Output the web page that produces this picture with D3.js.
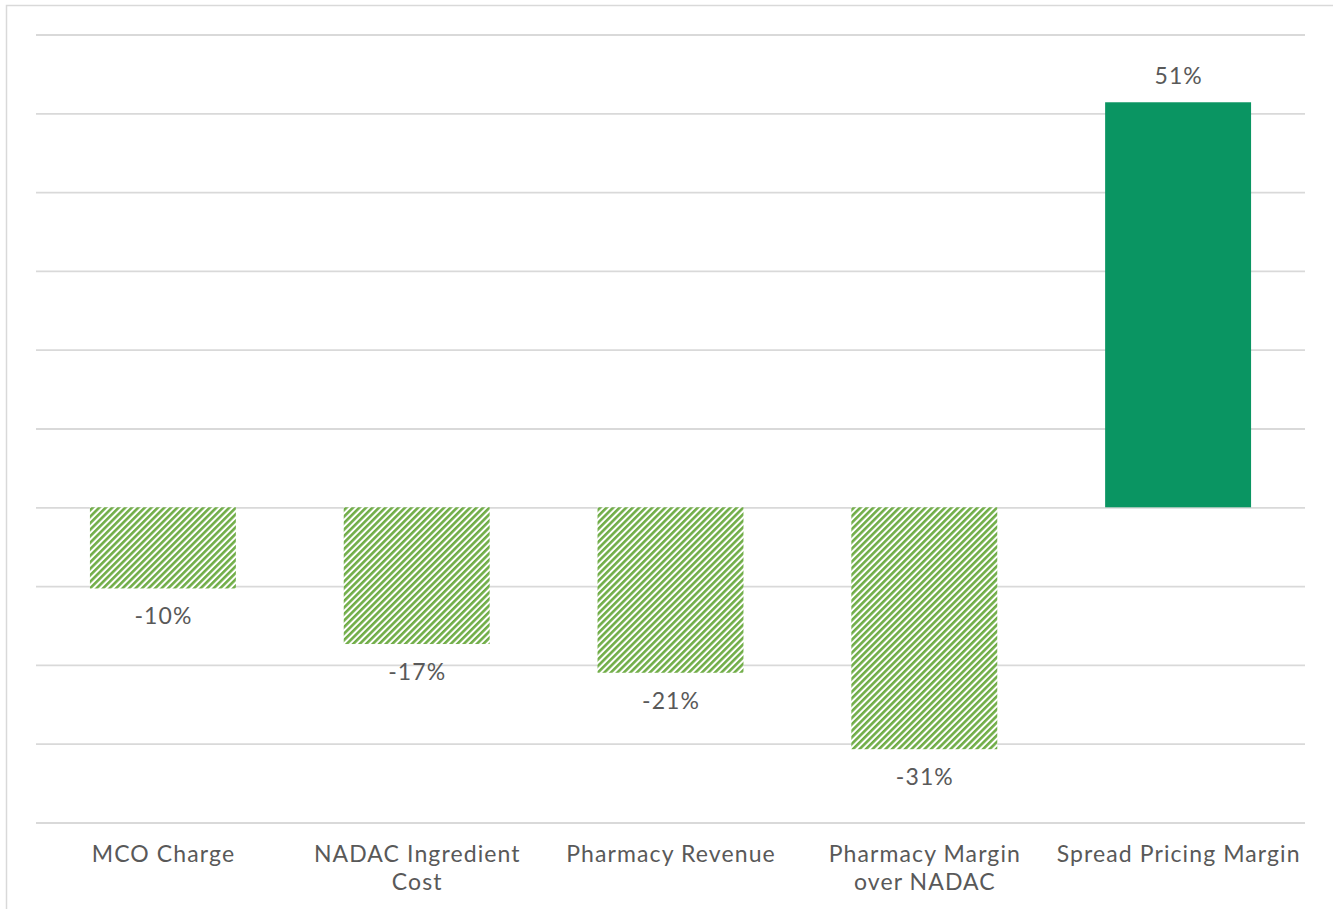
<!DOCTYPE html>
<html><head><meta charset="utf-8">
<script src="https://cdn.jsdelivr.net/npm/d3@7"></script>
<style>
html,body{margin:0;padding:0;background:#fff;}
svg{display:block;}
</style></head>
<body>
<svg id="chart" width="1333" height="909"></svg>
<script>
const categories = ["MCO Charge", "NADAC Ingredient Cost", "Pharmacy Revenue", "Pharmacy Margin over NADAC", "Spread Pricing Margin"];
const categoryLines = [["MCO Charge"], ["NADAC Ingredient", "Cost"], ["Pharmacy Revenue"], ["Pharmacy Margin", "over NADAC"], ["Spread Pricing Margin"]];
const values = [-10.3, -17.35, -21.0, -30.7, 51.4];
const valueLabels = ["-10%", "-17%", "-21%", "-31%", "51%"];
const hatched = [true, true, true, true, false];
const yTicks = [-40, -30, -20, -10, 0, 10, 20, 30, 40, 50, 60];

(function(){
const svg = d3.select("#chart");
const plotLeft = 36, plotRight = 1305, plotTop = 34.5, plotBottom = 822.5;

const defs = svg.append("defs");
const pat = defs.append("pattern").attr("id", "hatch")
  .attr("patternUnits", "userSpaceOnUse").attr("width", 4.6).attr("height", 4.6)
  .attr("patternTransform", "rotate(45)");
pat.append("rect").attr("width", 4.6).attr("height", 4.6).attr("fill", "#fff");
pat.append("rect").attr("width", 2.6).attr("height", 4.6).attr("fill", "#70ad47");

// outer border
svg.append("rect").attr("x", 6.5).attr("y", 5.5).attr("width", 1340).attr("height", 920)
  .attr("fill", "none").attr("stroke", "#d9d9d9").attr("stroke-width", 1.5);

const x = d3.scaleBand().domain(categories).range([plotLeft, plotRight]).padding(0);
const y = d3.scaleLinear().domain([-40, 60]).range([plotBottom, plotTop]);

// grid
const gy = svg.append("g").attr("transform", `translate(${plotLeft},0)`)
  .call(d3.axisLeft(y).tickValues(yTicks).tickSize(-(plotRight - plotLeft)).tickFormat(""));
gy.select(".domain").remove();
gy.selectAll(".tick line").attr("stroke", "#d9d9d9").attr("stroke-width", 1.8);

const bw = x.bandwidth() * 0.575;
const data = categories.map((c, i) => ({c, v: values[i], lab: valueLabels[i], h: hatched[i], lines: categoryLines[i]}));

svg.append("g").selectAll("rect").data(data).join("rect")
  .attr("x", d => x(d.c) + (x.bandwidth() - bw) / 2)
  .attr("y", d => y(Math.max(0, d.v)))
  .attr("width", bw)
  .attr("height", d => Math.abs(y(d.v) - y(0)))
  .attr("fill", d => d.h ? "url(#hatch)" : "#0a9562");

const font = "Lato, 'Open Sans', sans-serif";
const fs = 23, ls = 1.1;
svg.append("g").selectAll("text").data(data).join("text")
  .attr("x", d => x(d.c) + x.bandwidth() / 2 + ls / 2)
  .attr("y", d => d.v < 0 ? y(d.v) + 36 : y(d.v) - 18)
  .attr("text-anchor", "middle")
  .attr("font-family", font).attr("font-size", fs).attr("letter-spacing", ls).attr("fill", "#595959")
  .text(d => d.lab);

// category axis
const gx = svg.append("g").attr("transform", `translate(0,${plotBottom})`)
  .call(d3.axisBottom(x).tickSize(0).tickFormat(""));
gx.select(".domain").remove();
gx.selectAll(".tick").each(function(d, i) {
  const t = d3.select(this).append("text")
    .attr("text-anchor", "middle").attr("font-family", font).attr("font-size", fs)
    .attr("letter-spacing", ls).attr("fill", "#595959");
  categoryLines[i].forEach((ln, j) => {
    t.append("tspan").attr("x", ls / 2).attr("y", 39.5 + j * 28).text(ln);
  });
});
})();
</script>
</body></html>
